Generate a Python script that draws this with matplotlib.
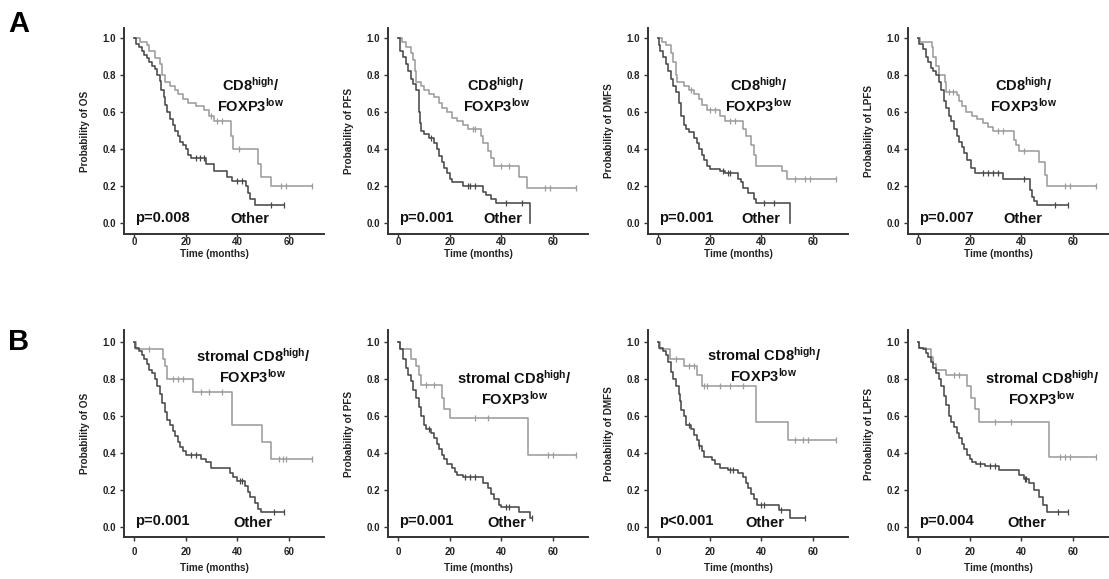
import numpy as np
import matplotlib
matplotlib.use("Agg")
import matplotlib.pyplot as plt

plt.rcParams["font.family"] = ["Liberation Sans", "DejaVu Sans"]
plt.rcParams["font.weight"] = "bold"
plt.rcParams["mathtext.fontset"] = "custom"
plt.rcParams["mathtext.rm"] = "Liberation Sans:bold"
plt.rcParams["mathtext.bf"] = "Liberation Sans:bold"
plt.rcParams["mathtext.it"] = "Liberation Sans:bold"

# ---- data (time in months, survival probability) ----
# A: CD8high/FOXP3low vs other
a_os_hi_t = [0, 2.5, 5, 6, 8, 10, 11, 12, 14, 16, 17, 19, 21, 24, 27, 29, 31, 37.5, 38.5, 48, 49, 53]
a_os_hi_s = [1.0, 0.98, 0.96, 0.93, 0.89, 0.86, 0.80, 0.76, 0.74, 0.72, 0.70, 0.67, 0.65, 0.63, 0.61, 0.58, 0.55, 0.47, 0.40, 0.32, 0.25, 0.20]
a_os_hi_c = [30, 32, 34, 40.5, 57, 59, 69]
a_os_lo_t = [0, 1, 2, 3, 4, 5, 6, 7, 8, 9, 10, 10.5, 11.5, 12, 13, 14, 15, 16, 17, 18, 19, 20, 21, 22, 28, 31, 36, 38, 43.5, 44, 45, 47]
a_os_lo_s = [1.0, 0.97, 0.95, 0.93, 0.91, 0.89, 0.87, 0.85, 0.83, 0.80, 0.77, 0.72, 0.68, 0.64, 0.60, 0.56, 0.53, 0.50, 0.47, 0.44, 0.42, 0.40, 0.37, 0.35, 0.32, 0.28, 0.25, 0.23, 0.20, 0.16, 0.13, 0.10]
a_os_lo_c = [24, 25.5, 27, 40, 42, 53, 58]

a_pfs_hi_t = [0, 1.5, 3, 5, 6, 6.5, 7, 9, 10, 12, 14, 16, 17, 19, 21, 23, 25, 27, 32, 33, 35, 36, 37, 47, 50]
a_pfs_hi_s = [1.0, 0.98, 0.95, 0.92, 0.88, 0.82, 0.76, 0.74, 0.72, 0.70, 0.68, 0.65, 0.62, 0.60, 0.57, 0.55, 0.53, 0.51, 0.47, 0.43, 0.39, 0.35, 0.31, 0.25, 0.19]
a_pfs_hi_c = [29, 30, 40, 43, 57, 59, 69]
a_pfs_lo_t = [0, 1, 2, 3, 4, 5, 6, 7, 8, 8.3, 8.6, 9, 10, 12, 14, 15, 16, 17, 18, 19, 20, 21, 25, 33, 34, 36, 38, 51]
a_pfs_lo_s = [1.0, 0.93, 0.90, 0.86, 0.82, 0.78, 0.75, 0.72, 0.66, 0.60, 0.54, 0.50, 0.48, 0.46, 0.43, 0.40, 0.36, 0.33, 0.30, 0.27, 0.24, 0.22, 0.20, 0.17, 0.15, 0.13, 0.11, 0.0]
a_pfs_lo_c = [13, 27, 28, 30, 42, 48]

a_dmfs_hi_t = [0, 1.5, 3, 5, 6, 7, 7.5, 10, 12, 14, 16, 17, 19, 24, 26, 33, 34, 36, 37, 38, 48, 50]
a_dmfs_hi_s = [1.0, 0.98, 0.96, 0.92, 0.87, 0.80, 0.76, 0.74, 0.72, 0.70, 0.67, 0.64, 0.61, 0.58, 0.55, 0.51, 0.47, 0.42, 0.37, 0.31, 0.28, 0.24]
a_dmfs_hi_c = [13, 20, 22, 28, 30, 53, 57, 59, 69]
a_dmfs_lo_t = [0, 0.5, 1, 2, 3, 4, 5, 6, 7, 8, 9, 10, 11, 12, 14, 15, 16, 17, 18, 19, 20, 24, 26, 31, 32, 33, 35, 37, 38, 51]
a_dmfs_lo_s = [1.0, 0.96, 0.93, 0.90, 0.86, 0.82, 0.78, 0.74, 0.71, 0.65, 0.58, 0.53, 0.51, 0.49, 0.46, 0.43, 0.40, 0.37, 0.34, 0.31, 0.29, 0.28, 0.27, 0.24, 0.22, 0.19, 0.16, 0.13, 0.11, 0.0]
a_dmfs_lo_c = [25, 27, 28, 41, 45]

a_lpfs_hi_t = [0, 1, 5.5, 6, 7, 8, 10.5, 11, 15, 16, 17, 18.5, 21, 23, 25, 27, 29, 37, 38, 39, 47, 49, 50]
a_lpfs_hi_s = [1.0, 0.98, 0.95, 0.90, 0.85, 0.80, 0.76, 0.71, 0.69, 0.66, 0.63, 0.60, 0.58, 0.56, 0.54, 0.52, 0.50, 0.45, 0.42, 0.39, 0.33, 0.26, 0.20]
a_lpfs_hi_c = [12, 13.5, 31, 33, 41, 57, 59, 69]
a_lpfs_lo_t = [0, 0.5, 2, 3, 4, 5, 6, 7, 8, 9, 10, 11, 12, 13, 14, 15, 16, 17, 18, 19, 20.5, 22, 33, 43.5, 44, 45, 46]
a_lpfs_lo_s = [1.0, 0.97, 0.94, 0.90, 0.87, 0.84, 0.82, 0.80, 0.76, 0.72, 0.66, 0.62, 0.58, 0.55, 0.51, 0.47, 0.44, 0.41, 0.38, 0.34, 0.30, 0.27, 0.24, 0.18, 0.14, 0.12, 0.10]
a_lpfs_lo_c = [25, 27, 29, 31, 41, 53, 58]

# B: stromal CD8high/FOXP3low vs other
b_os_hi_t = [0, 1, 11.3, 12, 13, 23, 38, 49.5, 53]
b_os_hi_s = [1.0, 0.96, 0.91, 0.87, 0.80, 0.73, 0.55, 0.46, 0.37]
b_os_hi_c = [6, 15, 17, 19, 26, 29, 34, 56, 57.5, 59, 69]
b_os_lo_t = [0, 0.5, 2, 3, 4, 5, 6, 7, 8, 9, 10, 11, 12, 13, 14, 15, 16, 17, 18, 19, 20, 26, 28, 30, 37, 38.5, 40, 43, 44, 45, 47, 48, 49]
b_os_lo_s = [1.0, 0.97, 0.95, 0.93, 0.91, 0.88, 0.85, 0.83, 0.80, 0.76, 0.72, 0.67, 0.62, 0.58, 0.55, 0.52, 0.49, 0.46, 0.43, 0.41, 0.39, 0.37, 0.35, 0.32, 0.29, 0.27, 0.25, 0.22, 0.19, 0.16, 0.13, 0.10, 0.08]
b_os_lo_c = [22, 24, 41, 42, 54, 58]

b_pfs_hi_t = [0, 1, 5, 7, 8, 9, 17, 18, 20, 50.4]
b_pfs_hi_s = [1.0, 0.96, 0.91, 0.87, 0.82, 0.77, 0.70, 0.64, 0.59, 0.39]
b_pfs_hi_c = [11, 14, 30, 35, 58, 60, 69]
b_pfs_lo_t = [0, 1, 2, 3, 4, 5, 6, 7, 8, 9, 10, 11, 13, 14, 15, 16, 17, 18, 19, 21, 22, 23, 25, 33, 35, 36, 37, 39, 40, 47, 51]
b_pfs_lo_s = [1.0, 0.96, 0.91, 0.86, 0.82, 0.79, 0.74, 0.70, 0.65, 0.60, 0.55, 0.53, 0.51, 0.48, 0.45, 0.42, 0.39, 0.37, 0.34, 0.32, 0.30, 0.28, 0.27, 0.24, 0.21, 0.18, 0.15, 0.12, 0.11, 0.08, 0.05]
b_pfs_lo_c = [12, 26, 28, 30, 42, 43, 52]

b_dmfs_hi_t = [0, 1, 4.7, 10, 15, 17, 38, 50.5]
b_dmfs_hi_s = [1.0, 0.96, 0.91, 0.87, 0.82, 0.76, 0.57, 0.47]
b_dmfs_hi_c = [7, 12, 14, 18, 19, 24, 28, 33, 53, 56, 58, 69]
b_dmfs_lo_t = [0, 0.5, 2, 3, 4, 5, 6, 7, 8, 8.5, 9, 10, 11, 13, 14, 15, 16, 17, 18, 21, 22, 24, 27, 31, 33, 34, 35, 36, 37, 38.5, 47, 51]
b_dmfs_lo_s = [1.0, 0.97, 0.95, 0.93, 0.89, 0.84, 0.80, 0.76, 0.72, 0.68, 0.63, 0.60, 0.55, 0.53, 0.50, 0.47, 0.44, 0.41, 0.38, 0.36, 0.34, 0.32, 0.31, 0.29, 0.27, 0.24, 0.21, 0.18, 0.15, 0.12, 0.09, 0.05]
b_dmfs_lo_c = [12, 16, 28, 29, 40, 41, 47.5, 57]

b_lpfs_hi_t = [0, 0.5, 3, 5, 6, 7, 11, 19, 20.5, 22, 23.5, 50.8]
b_lpfs_hi_s = [1.0, 0.97, 0.96, 0.92, 0.88, 0.85, 0.82, 0.76, 0.70, 0.64, 0.57, 0.38]
b_lpfs_hi_c = [14, 16, 30, 36, 55, 57, 59, 69]
b_lpfs_lo_t = [0, 0.5, 2, 3, 4, 5, 6, 7, 8, 9, 10, 11, 12, 13, 14, 15, 16, 17, 18, 19, 20, 21, 22.5, 26, 31.5, 39, 41, 43, 45, 47, 48.5, 50]
b_lpfs_lo_s = [1.0, 0.97, 0.96, 0.94, 0.92, 0.89, 0.86, 0.83, 0.80, 0.76, 0.71, 0.66, 0.60, 0.57, 0.54, 0.51, 0.48, 0.45, 0.42, 0.39, 0.37, 0.35, 0.34, 0.33, 0.31, 0.28, 0.26, 0.24, 0.20, 0.16, 0.12, 0.08]
b_lpfs_lo_c = [24, 28, 30, 41.5, 42, 54, 58]

endpoints = ["OS", "PFS", "DMFS", "LPFS"]
p_values_a = ["p=0.008", "p=0.001", "p=0.001", "p=0.007"]
p_values_b = ["p=0.001", "p=0.001", "p<0.001", "p=0.004"]
label_a = "CD8$^{\\rm high}$/\nFOXP3$^{\\rm low}$"
label_b = "stromal CD8$^{\\rm high}$/\nFOXP3$^{\\rm low}$"

curves_a = [
    (a_os_hi_t, a_os_hi_s, a_os_hi_c, a_os_lo_t, a_os_lo_s, a_os_lo_c),
    (a_pfs_hi_t, a_pfs_hi_s, a_pfs_hi_c, a_pfs_lo_t, a_pfs_lo_s, a_pfs_lo_c),
    (a_dmfs_hi_t, a_dmfs_hi_s, a_dmfs_hi_c, a_dmfs_lo_t, a_dmfs_lo_s, a_dmfs_lo_c),
    (a_lpfs_hi_t, a_lpfs_hi_s, a_lpfs_hi_c, a_lpfs_lo_t, a_lpfs_lo_s, a_lpfs_lo_c),
]
curves_b = [
    (b_os_hi_t, b_os_hi_s, b_os_hi_c, b_os_lo_t, b_os_lo_s, b_os_lo_c),
    (b_pfs_hi_t, b_pfs_hi_s, b_pfs_hi_c, b_pfs_lo_t, b_pfs_lo_s, b_pfs_lo_c),
    (b_dmfs_hi_t, b_dmfs_hi_s, b_dmfs_hi_c, b_dmfs_lo_t, b_dmfs_lo_s, b_dmfs_lo_c),
    (b_lpfs_hi_t, b_lpfs_hi_s, b_lpfs_hi_c, b_lpfs_lo_t, b_lpfs_lo_s, b_lpfs_lo_c),
]

# text positions (data coords) per panel
text_a = [(45, 0.69), (38, 0.69), (39, 0.69), (41, 0.69)]
text_b = [(46, 0.87), (45, 0.75), (41, 0.875), (48, 0.75)]
other_a = [44.7, 40.5, 40, 40.5]
other_b = [46, 42, 41.5, 42]

HI_COLOR = "#9c9c9c"
LO_COLOR = "#484848"
W, H = 1109, 579


def km(ax, t, s, cens, color):
    t = np.asarray(t, float)
    s = np.asarray(s, float)
    end = max(t[-1], max(cens))
    tt = np.append(t, end)
    ss = np.append(s, s[-1])
    ax.step(tt, ss, where="post", color=color, lw=1.15, zorder=3)
    c = np.asarray(cens, float)
    idx = np.searchsorted(t, c, side="right") - 1
    ax.plot(c, s[idx], ls="none", marker="|", ms=4, mew=0.9, color=color, zorder=4)


def panel(ax, data, endpoint, pval, label, txt, other_x, xlab_px, tick_pad, tick_len):
    hi_t, hi_s, hi_c, lo_t, lo_s, lo_c = data
    km(ax, hi_t, hi_s, hi_c, HI_COLOR)
    km(ax, lo_t, lo_s, lo_c, LO_COLOR)
    for side in ["top", "right"]:
        ax.spines[side].set_visible(False)
    for side in ["left", "bottom"]:
        ax.spines[side].set_linewidth(1.4)
        ax.spines[side].set_color("#333333")
    ax.set_xticks([0, 20, 40, 60])
    ax.set_yticks([0.0, 0.2, 0.4, 0.6, 0.8, 1.0])
    ax.set_yticklabels(["0.0", "0.2", "0.4", "0.6", "0.8", "1.0"])
    ax.tick_params(axis="both", direction="out", length=3, width=1, colors="#333333", labelsize=7, labelcolor="#222222")
    ax.tick_params(axis="x", pad=tick_pad, length=tick_len)
    ax.tick_params(axis="y", pad=2.5)
    ax.set_ylabel(f"Probability of {endpoint}", fontsize=7.2, fontweight="bold", color="#222222")
    ax.yaxis.set_label_coords(-0.17, 0.5)
    ax.set_xlabel("Time (months)", fontsize=7.2, fontweight="bold", color="#222222")
    h = ax.get_position().height * H
    ax.xaxis.set_label_coords(0.45, -xlab_px / h)
    ax.text(txt[0], txt[1], label, ha="center", va="center", fontsize=10.5, fontweight="bold",
            color="#111111", linespacing=1.25)
    ax.text(0.3, 0.03, pval, ha="left", va="center", fontsize=10.5, fontweight="bold", color="#111111")
    ax.text(other_x, 0.02, "Other", ha="center", va="center", fontsize=10.5, fontweight="bold", color="#111111")


fig = plt.figure(figsize=(W / 100, H / 100), dpi=100)
lefts = [124, 388, 648, 908]

rows = [
    (28, 234, (-0.059, 1.054), curves_a, p_values_a, label_a, text_a, other_a, 15, 0.3, 2),
    (330, 537, (-0.054, 1.065), curves_b, p_values_b, label_b, text_b, other_b, 26, 4, 3),
]
for top, bot, ylim, curves, pvals, label, texts, others, xlab_px, pad, tlen in rows:
    for i in range(4):
        ax = fig.add_axes([lefts[i] / W, 1 - bot / H, 200 / W, (bot - top) / H])
        ax.set_xlim(-3.8, 73.5)
        ax.set_ylim(*ylim)
        panel(ax, curves[i], endpoints[i], pvals[i], label, texts[i], others[i], xlab_px, pad, tlen)

fig.text(8 / W, 1 - 31.5 / H, "A", fontsize=21, fontweight="bold", va="baseline")
fig.text(8 / W, 1 - 350 / H, "B", fontsize=21, fontweight="bold", va="baseline")

fig.savefig("out.png", dpi=100, facecolor="white")
